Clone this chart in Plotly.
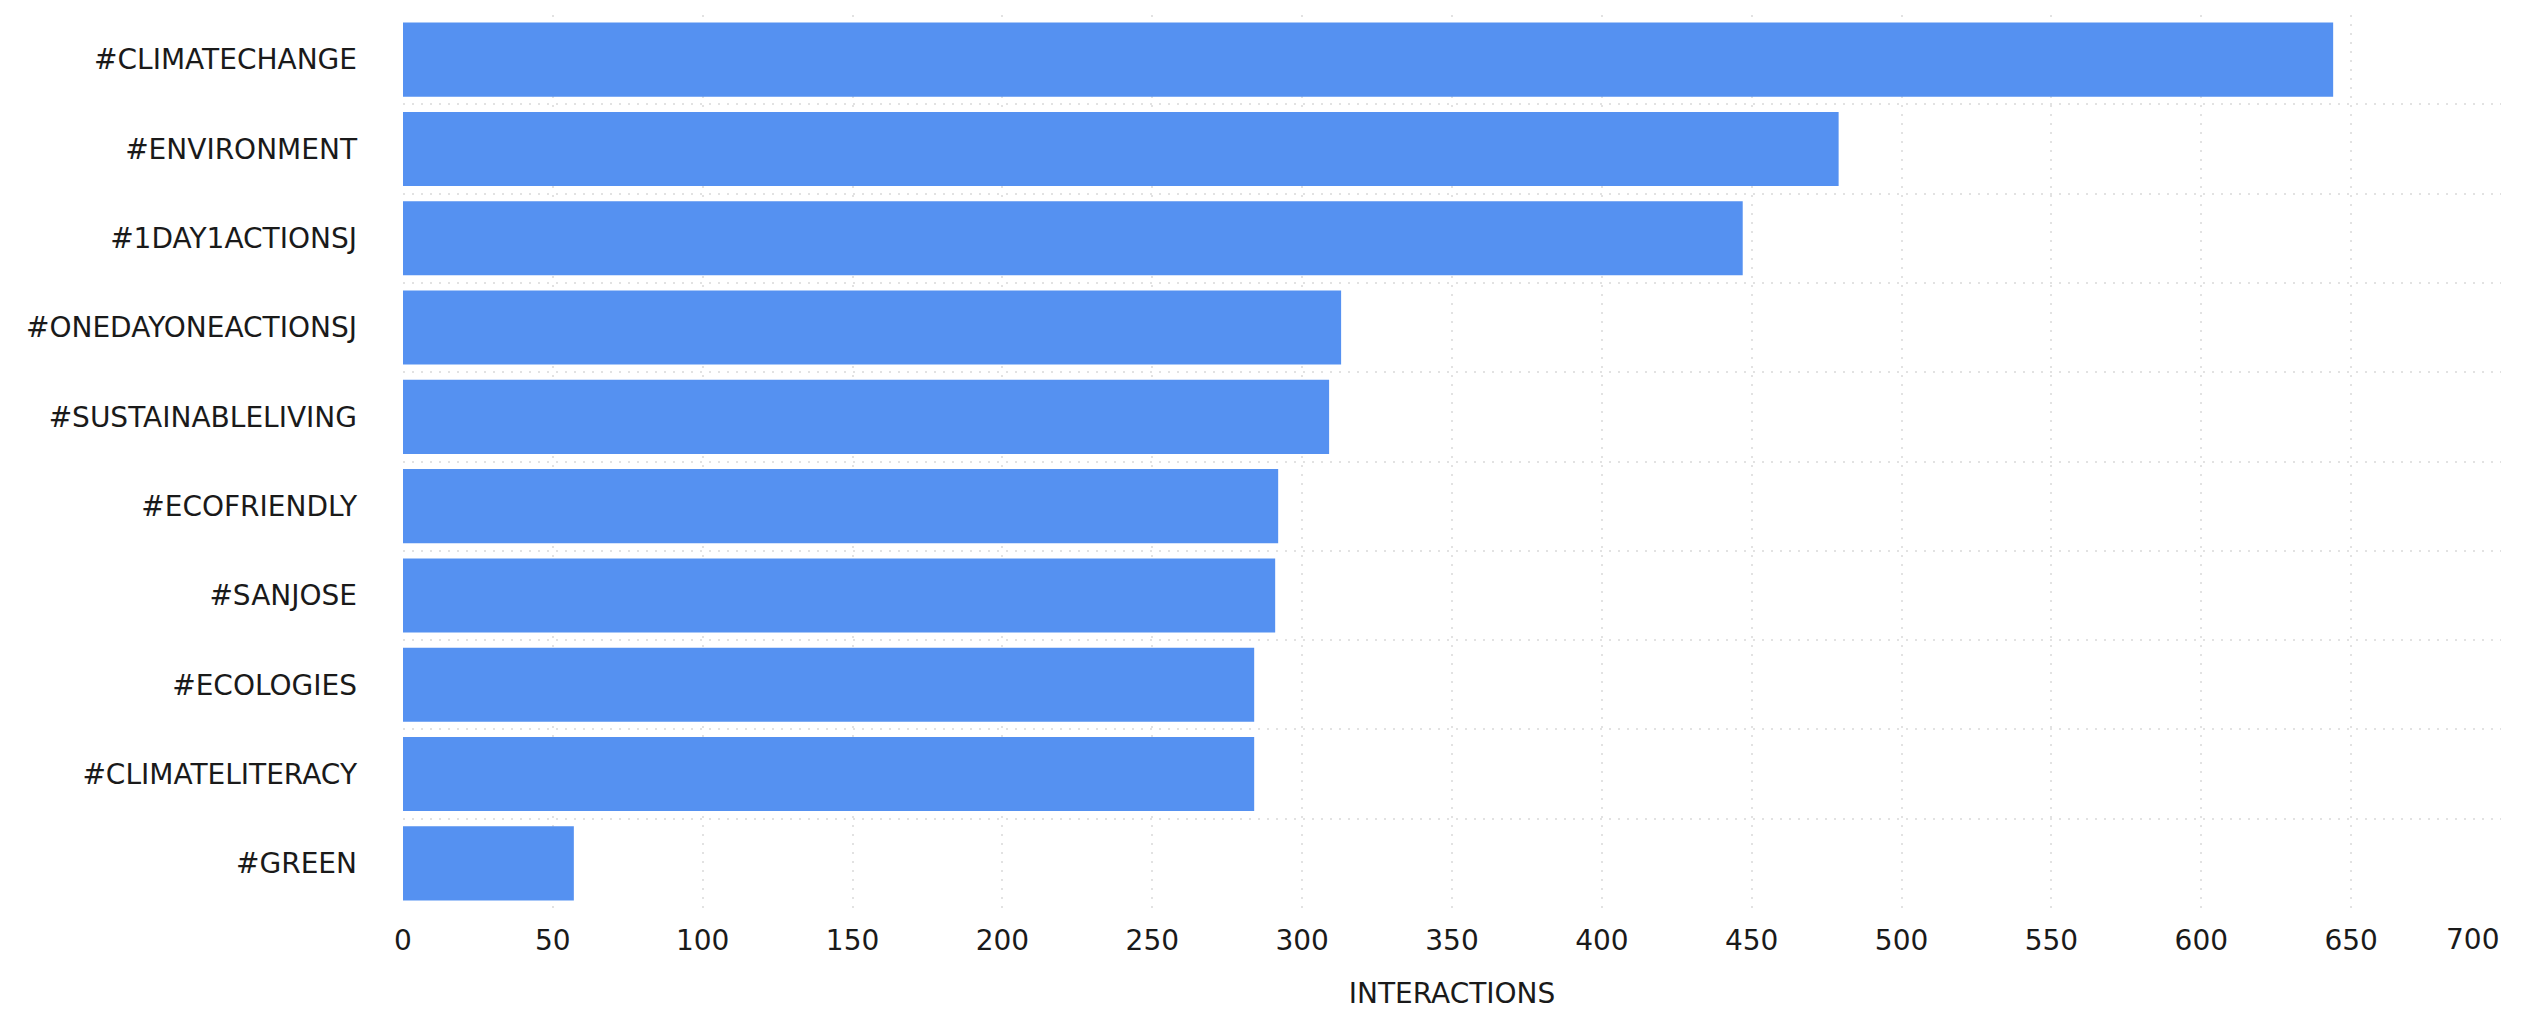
import plotly.graph_objects as go

hashtags = [
    "#CLIMATECHANGE",
    "#ENVIRONMENT",
    "#1DAY1ACTIONSJ",
    "#ONEDAYONEACTIONSJ",
    "#SUSTAINABLELIVING",
    "#ECOFRIENDLY",
    "#SANJOSE",
    "#ECOLOGIES",
    "#CLIMATELITERACY",
    "#GREEN",
]
interactions = [644, 479, 447, 313, 309, 292, 291, 284, 284, 57]
x_ticks = [0, 50, 100, 150, 200, 250, 300, 350, 400, 450, 500, 550, 600, 650, 700]

FONT = "DejaVu Sans"
TXT = "#1a1a1a"
GRID = "#e2e2e2"

fig = go.Figure(
    go.Bar(
        x=interactions,
        y=hashtags,
        orientation="h",
        marker=dict(color="#5591F1", line=dict(width=0)),
    )
)

fig.update_layout(
    width=2531,
    height=1013,
    margin=dict(l=395, r=38, t=7, b=113),
    paper_bgcolor="white",
    plot_bgcolor="white",
    bargap=0.17,
    showlegend=False,
    font=dict(family=FONT, size=28, color=TXT),
)

# last tick label is right-aligned to the plot edge (as in the reference)
last = x_ticks[-1]
tick_text = [str(v) if v != last else "" for v in x_ticks]

fig.update_xaxes(
    range=[0, 700],
    tickvals=x_ticks,
    ticktext=tick_text,
    showgrid=True,
    gridcolor=GRID,
    gridwidth=2,
    griddash="2px,7px",
    zeroline=False,
    showline=False,
    ticks="",
    ticklabelstandoff=13,
    tickfont=dict(family=FONT, size=28, color=TXT),
    title=dict(text="INTERACTIONS", font=dict(family=FONT, size=28, color=TXT), standoff=27),
)

fig.add_annotation(
    x=last,
    xref="x",
    y=0,
    yref="paper",
    text=str(last),
    showarrow=False,
    xanchor="right",
    yanchor="top",
    yshift=-13,
    font=dict(family=FONT, size=28, color=TXT),
)

fig.update_yaxes(
    type="category",
    categoryorder="array",
    categoryarray=hashtags,
    autorange="reversed",
    tickson="boundaries",
    showgrid=True,
    gridcolor=GRID,
    gridwidth=2,
    griddash="2px,7px",
    zeroline=False,
    showline=False,
    ticks="",
    ticklabelstandoff=45,
    tickfont=dict(family=FONT, size=28, color=TXT),
)

fig.write_html("out.html")
